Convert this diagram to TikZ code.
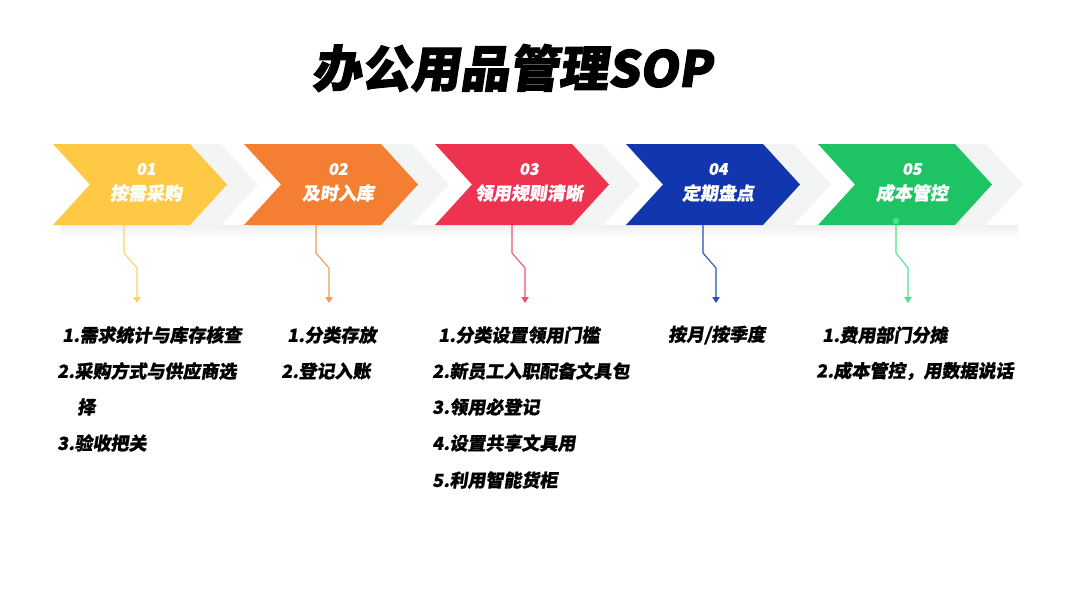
\documentclass[tikz,border=0pt]{standalone}
\usepackage{fontspec}
\newfontfamily\cjk[FakeSlant=0.15,FakeBold=0.8]{Noto Sans CJK SC}
\newfontfamily\cjktitle[FakeSlant=0.15,FakeBold=2.2]{Noto Sans CJK SC}
\usetikzlibrary{arrows.meta}
\definecolor{cyel}{HTML}{FFC845}
\definecolor{cora}{HTML}{F47E32}
\definecolor{cred}{HTML}{EE3350}
\definecolor{cblu}{HTML}{1136AD}
\definecolor{cgrn}{HTML}{1EC464}
\definecolor{lyel}{HTML}{FFD260}
\definecolor{lora}{HTML}{F59A5C}
\definecolor{lred}{HTML}{F0546C}
\definecolor{lblu}{HTML}{2A4DBE}
\definecolor{lgrn}{HTML}{4DE38E}
\definecolor{ghost}{HTML}{F3F5F5}
\tikzset{
  listtext/.style={anchor=west, inner sep=0pt, font=\cjk\bfseries\fontsize{13.5pt}{15pt}\selectfont, text=black},
  numtext/.style={inner sep=0pt, font=\cjk\bfseries\fontsize{12pt}{14pt}\selectfont, text=white},
  labtext/.style={inner sep=0pt, font=\cjk\bfseries\fontsize{13.5pt}{16pt}\selectfont, text=white},
  conn/.style={line width=0.8pt, -{Triangle[width=5.5pt,length=4.5pt]}}
}
\newcommand{\chevpath}[1]{(#1,144) -- (#1+137,144) -- (#1+174,184.5) -- (#1+137,225) -- (#1,225) -- (#1+37,184.5) -- cycle}
\begin{document}
\begin{tikzpicture}[x=0.75pt,y=-0.75pt]
\useasboundingbox (0,0) rectangle (1080,608);
\fill[white] (0,0) rectangle (1080,608);
% title
\node[font=\cjktitle\bfseries\fontsize{37pt}{42pt}\selectfont, inner sep=0pt] (title) at (512,68) {办公用品管理SOP};
% chevrons
\foreach \L/\c in {53/cyel,244/cora,435/cred,626/cblu,818/cgrn}{
  \shade[top color=black!6, bottom color=white] (\L+8,225) rectangle (\L+200,238);
  \fill[ghost] \chevpath{\L+31};
  \fill[\c] \chevpath{\L};
}
\node[numtext] (n1) at (146,169) {01};
\node[labtext] (l1) at (146,193) {按需采购};
\node[numtext] (n2) at (338,169) {02};
\node[labtext] (l2) at (338,193) {及时入库};
\node[numtext] (n3) at (529,169) {03};
\node[labtext] (l3) at (529,193) {领用规则清晰};
\node[numtext] (n4) at (718,169) {04};
\node[labtext] (l4) at (718,193) {定期盘点};
\node[numtext] (n5) at (912,169) {05};
\node[labtext] (l5) at (912,193) {成本管控};
% connectors
\foreach \i/\a/\b/\c in {1/124/137/lyel,2/316/329/lora,3/512/525/lred,4/703/716/lblu,5/896/908/lgrn}{
  \coordinate (s\i) at (\a,225);
  \coordinate (p\i) at (\a,253);
  \coordinate (q\i) at (\b,268);
  \coordinate (e\i) at (\b,303);
  \draw[conn, draw=\c] (s\i) -- (p\i) -- (q\i) -- (e\i);
}
\fill[lgrn] (896,221) circle (3.2);
% lists
\node[listtext] (t11) at (62,335) {1.需求统计与库存核查};
\node[listtext] (t12) at (57,371) {2.采购方式与供应商选};
\node[listtext] (t13) at (77,407) {择};
\node[listtext] (t14) at (57,443) {3.验收把关};
\node[listtext] (t21) at (287,335) {1.分类存放};
\node[listtext] (t22) at (281,371) {2.登记入账};
\node[listtext] (t31) at (438,335) {1.分类设置领用门槛};
\node[listtext] (t32) at (432,371) {2.新员工入职配备文具包};
\node[listtext] (t33) at (432,407) {3.领用必登记};
\node[listtext] (t34) at (432,443) {4.设置共享文具用};
\node[listtext] (t35) at (432,480) {5.利用智能货柜};
\node[listtext] (t41) at (668,335) {按月/按季度};
\node[listtext] (t51) at (822,335) {1.费用部门分摊};
\node[listtext] (t52) at (816,371) {2.成本管控，用数据说话};
\end{tikzpicture}
\end{document}
